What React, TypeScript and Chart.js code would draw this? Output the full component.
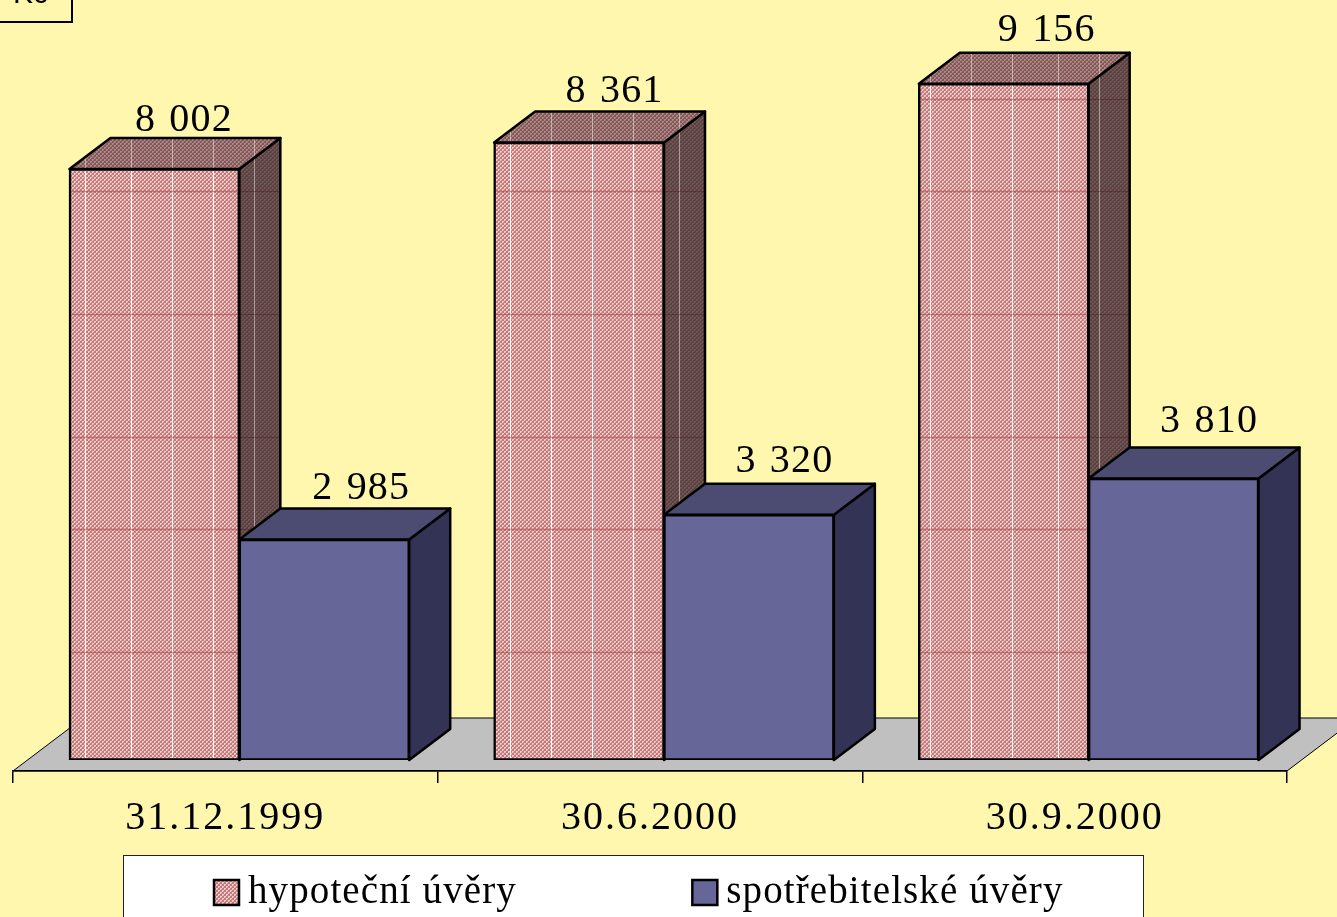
import React, { useEffect, useRef } from "react";
import { Chart, registerables } from "chart.js";

Chart.register(...registerables);

const categories = ["31.12.1999", "30.6.2000", "30.9.2000"];
const seriesNames = ["hypoteční úvěry", "spotřebitelské úvěry"];
const mortgageLoans = [8002, 8361, 9156];
const consumerLoans = [2985, 3320, 3810];
const unitLabel = "Kč";

const WIDTH = 1337;
const HEIGHT = 917;
const SERIF = "'Liberation Serif', 'Times New Roman', serif";
const BACKGROUND = "#FFF7AD";
const FRONT_SHIFT = { x: 14, y: -11 };
const DEPTH = { x: 41, y: -31 };
const FLOOR = { x: 70, y: -53 };
const LEGEND_GAP = 186;
// Seams of the scanned hatch texture, in canvas pixels.
const SEAM_COLUMNS = [85, 131, 172, 213, 254, 510, 551, 592, 633, 679, 930, 971, 1012, 1058, 1099];
const SEAM_ROWS = [99, 191, 314, 437, 529, 652];
// Hand placement of the value labels, per series and category.
const LABEL_NUDGE_X = [[-6, 0, 7.5], [1.5, 0, 0]];
const LABEL_NUDGE_Y = [[0, -2, -5], [-3, -5, -9]];

function makePattern(): CanvasPattern {
  const tile = document.createElement("canvas");
  tile.width = 4;
  tile.height = 4;
  const c = tile.getContext("2d")!;
  c.fillStyle = "#C27A7D";
  c.fillRect(0, 0, 4, 4);
  c.fillStyle = "#EFCBC7";
  c.fillRect(0, 0, 2, 2);
  c.fillRect(2, 2, 2, 2);
  c.fillStyle = "#D49E9E";
  c.fillRect(1, 1, 1, 1);
  c.fillRect(3, 3, 1, 1);
  return c.createPattern(tile, "repeat")!;
}

const formatValue = (v: number) => String(v).replace(/\B(?=(\d{3})+$)/g, " ");

function polygon(ctx: CanvasRenderingContext2D, pts: number[][]) {
  ctx.beginPath();
  pts.forEach(([x, y], i) => (i ? ctx.lineTo(x, y) : ctx.moveTo(x, y)));
  ctx.closePath();
}

function drawSeams(ctx: CanvasRenderingContext2D, white: string, red: string, width: number) {
  // the context is shifted to the front plane, seams are given in canvas pixels
  const ox = -FRONT_SHIFT.x;
  const oy = -FRONT_SHIFT.y;
  ctx.lineWidth = 1;
  ctx.strokeStyle = white;
  for (const x of SEAM_COLUMNS) {
    ctx.beginPath();
    ctx.moveTo(x + 0.5 + ox, 0);
    ctx.lineTo(x + 0.5 + ox, HEIGHT);
    ctx.stroke();
  }
  ctx.lineWidth = width;
  ctx.strokeStyle = red;
  for (const y of SEAM_ROWS) {
    ctx.beginPath();
    ctx.moveTo(0, y + 0.5 + oy);
    ctx.lineTo(WIDTH, y + 0.5 + oy);
    ctx.stroke();
  }
}

const box3d = {
  id: "box3d",
  beforeLayout(chart: any) {
    const legend = chart.legend;
    if (legend && !legend.__wrapped) {
      legend.__wrapped = true;
      const fit = legend.fit;
      legend.fit = function () {
        fit.call(this);
        this.height = 62;
      };
    }
    const x = chart.scales.x;
    if (x && !x.__wrapped) {
      x.__wrapped = true;
      const drawLabels = x.drawLabels;
      x.drawLabels = function (area: any) {
        const prev = (chart.ctx as any).letterSpacing;
        (chart.ctx as any).letterSpacing = "2px";
        drawLabels.call(this, area);
        (chart.ctx as any).letterSpacing = prev;
      };
    }
  },
  afterLayout(chart: any) {
    const legend = chart.legend;
    legend.left = 224.5 - LEGEND_GAP;
    legend.right = WIDTH;
    legend.top = 873 - LEGEND_GAP;
  },
  beforeDraw(chart: any) {
    const ctx: CanvasRenderingContext2D = chart.ctx;
    const { left, right, bottom } = chart.chartArea;
    ctx.save();
    ctx.fillStyle = BACKGROUND;
    ctx.fillRect(0, 0, WIDTH, HEIGHT);

    // floor
    polygon(ctx, [
      [left, bottom],
      [right, bottom],
      [right + FLOOR.x, bottom + FLOOR.y],
      [left + FLOOR.x, bottom + FLOOR.y],
    ]);
    ctx.fillStyle = "#C0C0C0";
    ctx.fill();
    ctx.strokeStyle = "#000";
    ctx.lineWidth = 1;
    ctx.stroke();

    // unit box, cut by the top of the page
    ctx.strokeStyle = "#000";
    ctx.lineWidth = 2;
    ctx.strokeRect(-5, -5, 77, 27);
    ctx.fillStyle = "#000";
    ctx.font = "30px 'Liberation Sans', sans-serif";
    ctx.textAlign = "left";
    ctx.textBaseline = "alphabetic";
    ctx.fillText(unitLabel, 13, 3);

    // legend panel
    ctx.fillStyle = "#FFF";
    ctx.fillRect(123, 855, 1020, 80);
    ctx.strokeStyle = "#222";
    ctx.lineWidth = 1;
    ctx.strokeRect(123.5, 855.5, 1020, 80);
    ctx.restore();
    (ctx as any).letterSpacing = "1.1px";
  },
  // Side and top faces of every box go first, left series before right series,
  // so the front faces drawn by the bar elements sit on top of them.
  beforeDatasetsDraw(chart: any) {
    const ctx: CanvasRenderingContext2D = chart.ctx;
    ctx.save();
    ctx.translate(FRONT_SHIFT.x, FRONT_SHIFT.y);
    chart.data.datasets.forEach((ds: any, index: number) => {
      const isMortgage = index === 0;
      for (const bar of chart.getDatasetMeta(index).data) {
        const l = bar.x - bar.width / 2;
        const r = bar.x + bar.width / 2;
        const t = bar.y;
        const b = bar.base;
        const side = [
          [r, t],
          [r + DEPTH.x, t + DEPTH.y],
          [r + DEPTH.x, b + DEPTH.y],
          [r, b],
        ];
        const top = [
          [l, t],
          [l + DEPTH.x, t + DEPTH.y],
          [r + DEPTH.x, t + DEPTH.y],
          [r, t],
        ];
        const face = (pts: number[][], shade: string) => {
          polygon(ctx, pts);
          if (isMortgage) {
            ctx.fillStyle = ds.backgroundColor;
            ctx.fill();
          }
          ctx.fillStyle = shade;
          ctx.fill();
          if (isMortgage) {
            ctx.save();
            polygon(ctx, pts);
            ctx.clip();
            drawSeams(ctx, "rgba(255,255,255,0.45)", "rgba(70,10,10,0.35)", 1);
            ctx.restore();
          }
          polygon(ctx, pts);
          ctx.strokeStyle = "#000";
          ctx.lineWidth = 2.5;
          ctx.lineJoin = "round";
          ctx.stroke();
        };
        face(side, isMortgage ? "rgba(30,25,25,0.62)" : "#333355");
        face(top, isMortgage ? "rgba(40,25,25,0.36)" : "#4C4C73");
      }
    });
    ctx.restore();
  },
  beforeDatasetDraw(chart: any) {
    const ctx: CanvasRenderingContext2D = chart.ctx;
    ctx.save();
    ctx.translate(FRONT_SHIFT.x, FRONT_SHIFT.y);
  },
  afterDatasetDraw(chart: any, args: any) {
    const ctx: CanvasRenderingContext2D = chart.ctx;
    if (args.index === 0) {
      for (const bar of args.meta.data) {
        ctx.save();
        ctx.beginPath();
        ctx.rect(bar.x - bar.width / 2 + 2, bar.y + 2, bar.width - 4, bar.base - bar.y - 4);
        ctx.clip();
        drawSeams(ctx, "rgba(255,255,255,0.95)", "rgba(170,55,60,0.5)", 1.5);
        ctx.restore();
      }
    }
    ctx.restore();
  },
  afterDatasetsDraw(chart: any) {
    const ctx: CanvasRenderingContext2D = chart.ctx;
    ctx.save();
    ctx.font = `40px ${SERIF}`;
    ctx.fillStyle = "#000";
    ctx.textAlign = "center";
    ctx.textBaseline = "alphabetic";
    (ctx as any).letterSpacing = "1.2px";
    (ctx as any).wordSpacing = "2px";
    chart.data.datasets.forEach((ds: any, i: number) => {
      chart.getDatasetMeta(i).data.forEach((bar: any, j: number) => {
        ctx.fillText(
          formatValue(ds.data[j]),
          bar.x + FRONT_SHIFT.x + DEPTH.x / 2 + 15 + LABEL_NUDGE_X[i][j],
          bar.y + FRONT_SHIFT.y + DEPTH.y - 7 + LABEL_NUDGE_Y[i][j]
        );
      });
    });
    ctx.restore();
  },
};

export default function App() {
  const ref = useRef<HTMLCanvasElement>(null);
  useEffect(() => {
    document.body.style.margin = "0";
    const pattern = makePattern();
    const chart = new Chart(ref.current!, {
      type: "bar",
      data: {
        labels: categories,
        datasets: [
          {
            label: seriesNames[0],
            data: mortgageLoans,
            backgroundColor: pattern as any,
            borderColor: "#000",
            borderWidth: 2.5,
            borderSkipped: false,
            inflateAmount: 0.8,
          },
          {
            label: seriesNames[1],
            data: consumerLoans,
            backgroundColor: "#666699",
            borderColor: "#000",
            borderWidth: 2.5,
            borderSkipped: false,
            inflateAmount: 0.8,
          },
        ],
      },
      options: {
        responsive: false,
        animation: false,
        events: [],
        layout: { padding: { left: 13, right: 50, top: 32.4, bottom: 0 } },
        datasets: { bar: { barPercentage: 1, categoryPercentage: 0.8 } },
        scales: {
          x: {
            offset: true,
            afterFit: (s: any) => {
              s.height = 84;
            },
            grid: {
              offset: true,
              drawOnChartArea: false,
              color: "#000",
              lineWidth: 1.5,
              tickLength: 12,
            },
            border: { color: "#000", width: 1.5 },
            ticks: {
              font: { family: SERIF, size: 40 },
              color: "#000",
              padding: 11,
              maxRotation: 0,
              autoSkip: false,
            },
          },
          y: { display: false, min: 0, max: 10000 },
        },
        plugins: {
          tooltip: { enabled: false },
          title: { display: false },
          legend: {
            display: true,
            position: "bottom",
            align: "start",
            labels: {
              font: { family: SERIF, size: 39 },
              color: "#000",
              usePointStyle: true,
              pointStyle: "rect",
              boxWidth: 4,
              boxHeight: 25,
              padding: LEGEND_GAP,
            },
          },
        },
      } as any,
      plugins: [box3d as any],
    });
    return () => chart.destroy();
  }, []);
  return <canvas ref={ref} width={WIDTH} height={HEIGHT} style={{ display: "block" }} />;
}
